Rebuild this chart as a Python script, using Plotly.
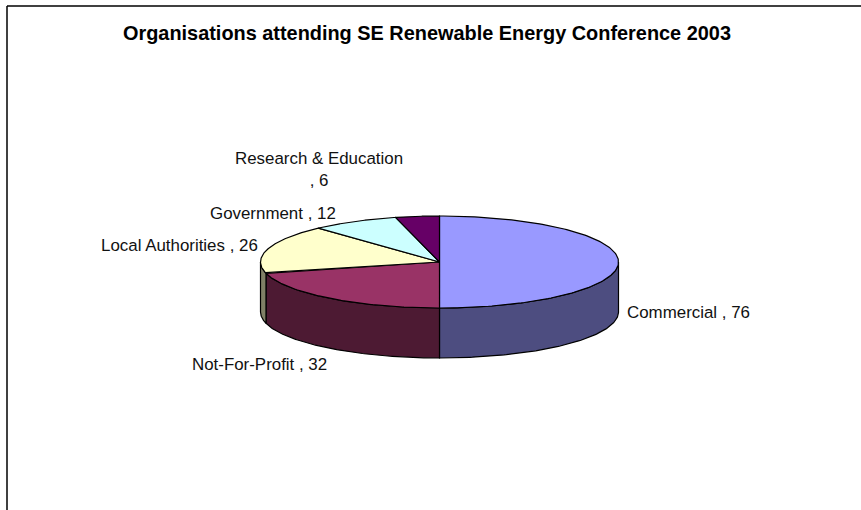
import numpy as np
import plotly.graph_objects as go

categories = ["Commercial", "Not-For-Profit", "Local Authorities", "Government", "Research & Education"]
values = [76, 32, 26, 12, 6]
top_colors = ["#9999FF", "#993366", "#FFFFCC", "#CCFFFF", "#660066"]
side_colors = ["#4D4D80", "#4D1A33", "#808066", "#668080", "#330033"]
title = "Organisations attending SE Renewable Energy Conference 2003"

W, H = 861, 510
CX, CY, RX, RY, DEPTH = 439.5, 262, 179, 46, 50

def pt(deg, dy=0):
    t = np.radians(deg)
    return CX + RX * np.sin(t), CY - RY * np.cos(t) + dy

fractions = np.cumsum([0] + values) / sum(values) * 360
fig = go.Figure()
line = dict(color="black", width=1.2)

for a0, a1, col in zip(fractions[:-1], fractions[1:], side_colors):
    s0, s1 = max(a0, 90), min(a1, 270)
    if s1 <= s0:
        continue
    angs = np.linspace(s0, s1, 120)
    xt, yt = pt(angs)
    xb, yb = pt(angs, DEPTH)
    fig.add_trace(go.Scatter(
        x=np.r_[xt, xb[::-1], xt[0]], y=np.r_[yt, yb[::-1], yt[0]],
        mode="lines", fill="toself", fillcolor=col, line=line,
        hoverinfo="skip", showlegend=False))

for a0, a1, col, cat in zip(fractions[:-1], fractions[1:], top_colors, categories):
    angs = np.linspace(a0, a1, 160)
    xs, ys = pt(angs)
    fig.add_trace(go.Scatter(
        x=np.r_[CX, xs, CX], y=np.r_[CY, ys, CY],
        mode="lines", fill="toself", fillcolor=col, line=line,
        name=cat, hoverinfo="name", showlegend=False))

label_pos = [(625, 312), (190, 364), (99, 245), (208, 213), (318.5, 169.5)]
label_anchor = ["left", "left", "left", "left", "center"]
annotations = []
for cat, val, (lx, ly), anc in zip(categories, values, label_pos, label_anchor):
    txt = f"{cat} , {val}" if anc == "left" else f"{cat}<br>, {val}"
    annotations.append(dict(x=lx, y=ly, xref="x", yref="y", text=txt, showarrow=False,
                            xanchor=anc, yanchor="middle", align="center",
                            font=dict(family="Liberation Sans", size=16.9, color="#111111")))
annotations.append(dict(x=426.5, y=33, xref="x", yref="y", text=f"<b>{title}</b>", showarrow=False,
                        xanchor="center", yanchor="middle",
                        font=dict(family="Liberation Sans", size=19.9, color="black")))

fig.update_layout(
    width=W, height=H, autosize=False,
    margin=dict(l=0, r=0, t=0, b=0),
    paper_bgcolor="white", plot_bgcolor="white",
    xaxis=dict(range=[0, W], visible=False, fixedrange=True),
    yaxis=dict(range=[H, 0], visible=False, fixedrange=True),
    annotations=annotations,
    shapes=[
        dict(type="line", x0=7, x1=7, y0=6, y1=H, line=dict(color="black", width=1.5)),
        dict(type="line", x0=7, x1=W, y0=6, y1=6, line=dict(color="black", width=1.5)),
    ],
)
fig.write_html("out.html", config=dict(displayModeBar=False),
               post_script="document.documentElement.style.overflow='hidden';document.body.style.margin='0';")
